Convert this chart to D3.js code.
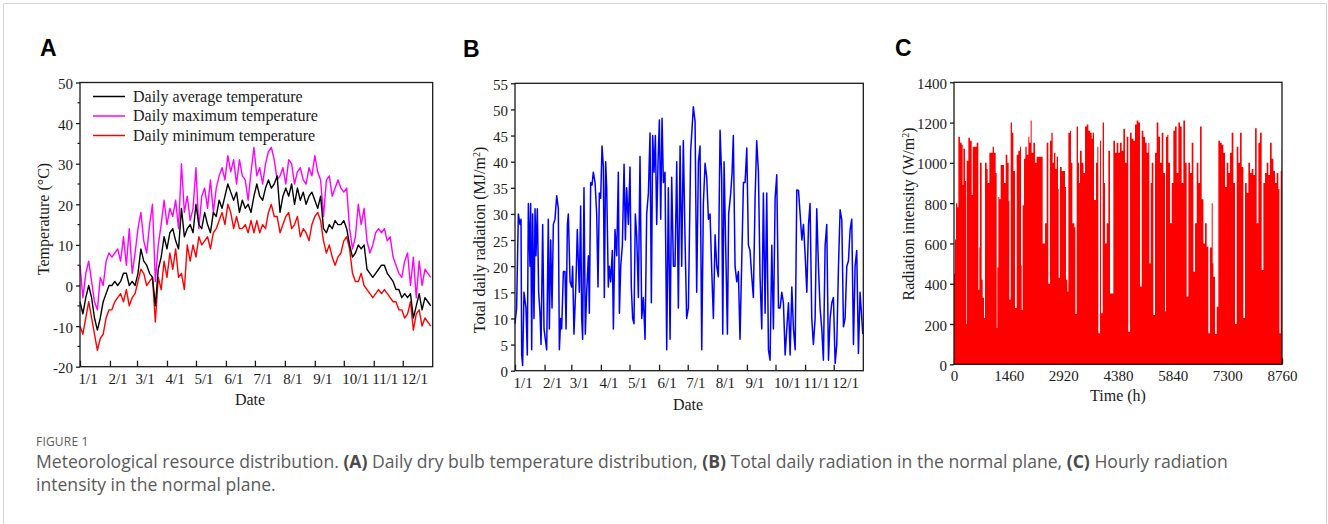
<!DOCTYPE html>
<html>
<head>
<meta charset="utf-8">
<script src="https://cdn.jsdelivr.net/npm/d3@7"></script>
<style>
  body { margin: 0; background: #fff; }
  svg { display: block; }
  .tick-label { font-family: 'Liberation Serif', 'Times New Roman', serif; font-size: 15px; fill: #1a1a1a; }
  .axis-title { font-family: 'Liberation Serif', 'Times New Roman', serif; font-size: 16px; fill: #1a1a1a; }
  .panel-letter { font-family: 'Liberation Sans', Arial, sans-serif; font-size: 23px; font-weight: bold; fill: #000; }
  .caption { font-family: 'Open Sans', 'Noto Sans', sans-serif; fill: #5a5a5a; }
</style>
</head>
<body>
<svg id="fig" width="1328" height="524"></svg>
<script>
// ---- data ----
const monthStarts = [0, 31, 59, 90, 120, 151, 181, 212, 243, 273, 304, 334];
const monthLabels = ['1/1', '2/1', '3/1', '4/1', '5/1', '6/1', '7/1', '8/1', '9/1', '10/1', '11/1', '12/1'];

// panel A: one reading every third day (day 0, 3, 6 ... 363)
const tempStepDays = 3;
const tempAvg = [-4, -7, -3, 0, -3, -8, -11, -8, -4, -2, 0, 0, 1, 0, 1, 3, 3, 0, 1, 0,
  3, 9, 6, 5, 3, 2, -5, 4, 7, 12, 9, 13, 14, 11, 9, 19, 12, 14, 15, 13,
  20, 15, 14, 18, 15, 13, 18, 17, 21, 19, 22, 25, 23, 21, 23, 18, 21,
  19, 20, 18, 22, 25, 22, 21, 24, 26, 24, 25, 27, 18, 22, 24, 22, 25, 20, 24, 21,
  23, 20, 22, 23, 21, 19, 22, 14, 13, 15, 14, 16, 15, 15, 16, 14, 10, 7, 8, 10,
  9, 10, 4, 3, 2, 3, 4, 5, 5, 3, 2, 1, -1, -1, -3, -2, -3, -2, -8, -5,
  -2, -6, -3, -4, -5];
const tempMax = [5, -3, 3, 6, 1, -4, -6, 2, 0, 6, 8, 7, 8, 9, 6, 12, 5, 14, 3, 8,
  14, 18, 11, 8, 15, 20, 1, 10, 15, 21, 15, 19, 17, 21, 14, 30, 18, 22, 16, 19,
  29, 14, 22, 24, 19, 26, 18, 24, 27, 29, 26, 32, 28, 31, 25, 31, 27,
  26, 21, 28, 34, 27, 29, 25, 30, 33, 34, 31, 26, 27, 29, 25, 31, 30, 25, 28, 29,
  26, 25, 29, 27, 32, 28, 26, 17, 26, 27, 22, 24, 26, 24, 23, 24, 14, 9, 12, 20,
  15, 19, 11, 8, 10, 13, 14, 13, 14, 11, 12, 7, 5, 3, 2, 6, 8, 0, 7, -3,
  6, 0, 4, 3, 2];
const tempMin = [-10, -12, -8, -4, -8, -12, -16, -13, -12, -8, -6, -6, -4, -3, -2, -4, -1, -5, -3, -2,
  1, 4, 3, 0, 1, 2, -9, 2, -1, 6, 2, 8, 4, 9, 2, 3, -1, 10, 6, 10,
  7, 12, 10, 11, 12, 9, 13, 14, 16, 18, 15, 20, 18, 14, 17, 14, 14,
  15, 13, 16, 13, 16, 13, 15, 14, 18, 20, 17, 17, 13, 15, 17, 18, 14, 15, 17, 12,
  14, 13, 11, 15, 17, 18, 16, 11, 8, 10, 7, 5, 7, 8, 11, 12, 9, 3, 1, 1,
  3, 0, -1, -2, -3, -2, -1, -2, -1, -2, -3, -4, -4, -6, -6, -8, -7, -4, -11, -7,
  -6, -10, -8, -9, -10];
const tempSeries = ['Daily average temperature', 'Daily maximum temperature', 'Daily minimum temperature'];
const tempColors = ['#000000', '#ff00ff', '#ff0000'];
const tempTicks = [-20, -10, 0, 10, 20, 30, 40, 50];

// panel B: daily total radiation, peaks and troughs (day of year, MJ/m2)
const radDays = [0, 1.7, 3.5, 5.2, 6.3, 7, 8, 9.4, 11.5, 12.9, 14, 15.7, 16.4, 17.5, 18.5, 19.9, 21, 22, 23.4, 24.8,
  26.2, 27.3, 29, 30.4, 31.8, 33.2, 34.9, 36, 37.4, 38.8, 40.2, 41.9, 43.7, 45.4, 46.5, 47.9, 48.9, 50.7, 52.4, 53.5,
  54.9, 55.9, 57.7, 59.4, 60.4, 61.8, 63.9, 65.3, 67.4, 68.8, 69.9, 70.9, 72.3, 73.7, 75.1, 76.9, 77.9, 79.3, 80.7, 82.1,
  83.9, 85.6, 87, 88.4, 89.8, 91.2, 92.6, 93.6, 95, 96.1, 97.8, 98.9, 100.3, 102, 103.1, 104.8, 106.6, 108.3, 109.4, 110.8,
  112.5, 114.3, 115.7, 117, 118.8, 120.5, 121.9, 123.3, 124.7, 126.1, 127.5, 129.3, 131, 132.8, 134.5, 136.3, 138, 139.8, 141.5, 142.9,
  144.3, 145.7, 147.1, 148.5, 149.9, 151.3, 152.7, 154.1, 155.5, 157.2, 159, 160.7, 162.5, 164.2, 166,
  167.7, 169.5, 171.2, 173, 174.7, 176.4, 178.2, 179.9, 181.7, 184.1, 186.9, 188.7, 190.4, 192.2, 193.9,
  195.7, 197.4, 199.2, 200.9, 202.7, 204.4, 206.2, 207.9, 209.7, 211.4, 213.1, 214.9, 216.6, 217.7, 219.1,
  221.2, 222.6, 223.9, 226.1, 227.5, 228.8, 230.6, 232.4, 234.1, 235.8, 237.6, 239.4, 241.1, 242.9, 244.6,
  246.3, 248.1, 249.8, 251.6, 253.3, 255.1, 256.8, 258.6, 260.3, 262.1, 263.8, 265.6, 267.3, 269.1, 270.8,
  272.6, 274.3, 276.1, 277.8, 279.6, 281.3, 283.1, 284.8, 286.6, 288.3, 290.1, 291.8, 293.6, 295.3, 297.1,
  298.8, 300.6, 302.3, 304.1, 305.8, 307.6, 309.2, 311, 312.7, 314.5, 316.2, 318, 319.7, 321.5, 323.2,
  325, 326.7, 328.5, 330.2, 332, 333.7, 335.5, 337.2, 339, 340.7, 342.5, 344.2, 345.9, 347.7, 349.4,
  351.2, 352.9, 354.7, 356.4, 358.1, 359.9, 361.6, 363.4, 364.5];
const radDaily = [9, 12, 30, 28, 29, 3, 1, 15, 12, 3, 32, 20, 32, 4, 30, 10, 31, 22, 31, 15,
  11, 5, 28, 8, 6, 4, 29, 8, 25, 12, 28, 29, 33.5, 31, 4, 10, 8, 19, 19, 8,
  28, 30, 17, 16, 20, 7, 17, 27, 15, 31.5, 10, 6, 35, 7, 15, 22, 11, 36, 35.5, 38,
  36, 30, 16, 34, 33, 43, 39, 14, 40, 35, 16, 20, 17, 23, 8, 27, 22, 38, 11, 20,
  24, 39.5, 25, 35, 28, 39, 16, 10, 9, 30, 26, 14, 41, 10, 14, 6, 30, 34, 45.5, 13,
  45, 38, 45, 28, 40, 48, 29, 48.3, 36, 38, 4, 35, 6, 37, 20,
  20, 40, 12, 43, 20, 44, 25, 10, 12, 42, 50.5, 47.7, 15, 40, 43,
  4, 32, 39.7, 37, 29, 30, 19, 10, 26, 20, 18, 46, 37, 7, 40,
  20, 7, 30, 34, 38, 45, 20, 17, 19, 6, 21, 36, 36, 42.6, 24,
  23, 18, 14, 33, 44, 38, 18, 8, 34, 11, 34, 4, 2, 24, 8,
  33, 37.5, 12, 12, 15, 13, 3, 8, 13, 3, 16, 8, 4, 34.6, 34.5,
  30, 25, 28, 22, 15, 28, 32, 10, 5, 10, 31, 20, 12, 8, 2,
  24, 28, 2, 10, 13, 14, 1.4, 5, 20, 30.8, 28.8, 8.4, 10, 20, 21,
  27, 29, 5, 20, 23, 3.3, 15, 10, 7];
const radTicks = [0, 5, 10, 15, 20, 25, 30, 35, 40, 45, 50, 55];

// panel C: hourly intensity, upper envelope of the hourly trace (hour, W/m2)
const hourMarks = [0, 27, 53, 89, 116, 160, 205, 231, 249, 294, 321, 338, 383, 427, 472, 499, 561, 605, 650, 677,
  694, 739, 766, 801, 828, 872, 899, 944, 988, 1033, 1068, 1113, 1140, 1157, 1184, 1211, 1246, 1300, 1335, 1380,
  1424, 1460, 1478, 1514, 1549, 1585, 1629, 1674, 1718, 1763, 1790, 1807, 1834, 1870, 1905, 1941, 1985, 2012, 2048, 2074,
  2119, 2163, 2208, 2368, 2386, 2431, 2475, 2520, 2564, 2600, 2635, 2671, 2707, 2742, 2778, 2796, 2831, 2876, 2920, 2965,
  2991, 3027, 3054, 3098, 3125, 3161, 3187, 3214, 3241, 3276, 3312, 3339, 3365,
  3410, 3455, 3499, 3544, 3588, 3633, 3677, 3704, 3739, 3793, 3828, 3855, 3900, 3926, 3971, 4006, 4033, 4078, 4122, 4167,
  4256, 4300, 4345, 4389, 4434, 4478, 4523, 4567, 4612, 4656, 4701, 4745, 4790, 4834, 4879, 4923, 4968, 5013, 5057, 5102,
  5146, 5191, 5217, 5253, 5280, 5324, 5369, 5413, 5458, 5502, 5547, 5591, 5636, 5662, 5698, 5725, 5769, 5814, 5858, 5903,
  5947, 5992, 6036, 6081, 6125, 6170, 6214, 6259, 6303, 6348, 6393, 6437, 6482, 6526, 6571, 6615, 6660, 6704, 6749, 6793,
  6838, 6882, 6909, 6927, 6971, 7016, 7060, 7105, 7149, 7194, 7238, 7283, 7327, 7372, 7416, 7461, 7505, 7550, 7594, 7639,
  7683, 7728, 7772, 7817, 7861, 7906, 7950, 7995, 8040, 8084, 8129, 8173, 8218, 8262, 8307, 8351, 8396, 8440, 8485, 8529,
  8574, 8618, 8663, 8690, 8725, 8752, 8760];
const hourPeak = [450, 620, 800, 780, 1130, 1100, 1090, 890, 1070, 910, 200, 1010, 1125, 1110, 840, 1080, 1080, 1100, 370, 580,
  1000, 420, 330, 230, 1000, 970, 900, 1050, 1050, 1080, 1050, 950, 180, 480, 830, 820, 990, 990, 900, 1040,
  1000, 810, 320, 1200, 1150, 960, 280, 1040, 1060, 1080, 490, 270, 790, 1020, 1080, 1040, 1130, 1100, 1210, 1050,
  1100, 1000, 1030, 600, 600, 700, 1100, 400, 1110, 1150, 1000, 1050, 970, 1030, 870, 430, 980, 960, 960, 880,
  420, 360, 1150, 1160, 1000, 700, 700, 680, 250, 1180, 1000, 900, 1060,
  1000, 950, 1180, 1190, 1160, 1150, 1120, 1150, 816, 1000, 1080, 154, 1110, 253, 1200, 900, 600, 700, 1060, 352,
  1110, 1050, 1100, 1050, 1100, 1060, 1170, 1000, 1130, 162, 1150, 1120, 1110, 1190, 1210, 1200, 386, 1160, 1130, 1100,
  1050, 1100, 500, 900, 1000, 245, 1050, 1200, 1130, 1000, 1150, 950, 262, 1130, 1140, 1000, 700, 900, 1160, 1180,
  950, 1200, 1180, 900, 1210, 1000, 336, 1000, 950, 1100, 460, 700, 1000, 900, 1180, 820, 600, 700, 584, 154,
  580, 800, 500, 435, 150, 286, 1110, 1100, 1090, 1050, 880, 1000, 950, 1050, 1150, 900, 200, 1080, 1000, 1150,
  980, 230, 900, 850, 1000, 950, 970, 940, 1172, 700, 1100, 1150, 468, 900, 950, 1000, 940, 1100, 1020, 960,
  900, 950, 870, 154, 960, 1070, 1070];
const hourTicks = [0, 1460, 2920, 4380, 5840, 7300, 8760];
const intensityTicks = [0, 200, 400, 600, 800, 1000, 1200, 1400];

// ---- helpers ----
const svg = d3.select('#fig');
const ink = '#1a1a1a';
const plain = (d) => String(d); // hyphen minus, no thousands separator

function drawFrame(g, x, y) {
  g.append('rect')
    .attr('x', x.range()[0])
    .attr('y', y.range()[1])
    .attr('width', x.range()[1] - x.range()[0])
    .attr('height', y.range()[0] - y.range()[1])
    .attr('fill', 'none')
    .attr('stroke', ink)
    .attr('stroke-width', 1.3);
}

function drawXAxis(g, x, y, ticks, fmt, anchor) {
  const ax = g.append('g')
    .attr('transform', `translate(0,${y.range()[0]})`)
    .call(d3.axisBottom(x).tickValues(ticks).tickFormat(fmt).tickSizeInner(-6).tickSizeOuter(0));
  ax.select('.domain').remove();
  ax.selectAll('line').attr('stroke', ink).attr('stroke-width', 1.3);
  ax.selectAll('text')
    .attr('class', 'tick-label')
    .attr('dy', null)
    .attr('y', 17)
    .attr('text-anchor', anchor)
    .attr('dx', anchor === 'start' ? -2 : 0);
}

function drawYAxis(g, x, y, ticks, minor) {
  const ax = g.append('g')
    .attr('transform', `translate(${x.range()[0]},0)`)
    .call(d3.axisLeft(y).tickValues(ticks).tickFormat(plain).tickSizeInner(4).tickSizeOuter(0).tickPadding(3));
  ax.select('.domain').remove();
  ax.selectAll('line').attr('stroke', ink).attr('stroke-width', 1.3);
  ax.selectAll('text').attr('class', 'tick-label').attr('dy', '0.4em');
  if (minor) {
    g.append('g').selectAll('line')
      .data(minor)
      .join('line')
      .attr('x1', x.range()[0] - 2.5)
      .attr('x2', x.range()[0])
      .attr('y1', (d) => y(d))
      .attr('y2', (d) => y(d))
      .attr('stroke', ink)
      .attr('stroke-width', 1.2);
  }
}

function yTitle(g, cx, cy, parts) {
  const t = g.append('text')
    .attr('class', 'axis-title')
    .attr('transform', `translate(${cx},${cy}) rotate(-90)`)
    .attr('text-anchor', 'middle')
    .attr('dy', '0.35em');
  parts.forEach((p) => {
    const s = t.append('tspan').text(p.text);
    if (p.sup) s.attr('baseline-shift', 'super').style('font-size', '10px');
  });
}

// outer frame of the figure
svg.append('path')
  .attr('d', 'M3.5,524V3.5H1326.5V524')
  .attr('fill', 'none')
  .attr('stroke', '#d4d4d4')
  .attr('stroke-width', 1);

// ---- panel A ----
const gA = svg.append('g');
const xA = d3.scaleLinear().domain([0, 365]).range([80, 432.7]);
const yA = d3.scaleLinear().domain([-20, 50]).range([366.7, 82.5]);

gA.append('text').attr('class', 'panel-letter').attr('x', 40).attr('y', 56).text('A');

drawXAxis(gA, xA, yA, monthStarts, (d, i) => monthLabels[i], 'start');
drawYAxis(gA, xA, yA, tempTicks, [-15, -5, 5, 15, 25, 35, 45]);

const lineA = d3.line()
  .x((d, i) => xA(i * tempStepDays))
  .y((d) => yA(d));

// draw max, min, then average on top
[[tempMax, 1], [tempMin, 2], [tempAvg, 0]].forEach(([s, idx]) => {
  gA.append('path')
    .datum(s)
    .attr('d', lineA)
    .attr('fill', 'none')
    .attr('stroke', tempColors[idx])
    .attr('stroke-width', 1.4)
    .attr('stroke-linejoin', 'round');
});

drawFrame(gA, xA, yA);

const legA = gA.append('g');
legA.selectAll('line')
  .data(tempSeries)
  .join('line')
  .attr('x1', 93)
  .attr('x2', 125)
  .attr('y1', (d, i) => 96.5 + i * 19.5)
  .attr('y2', (d, i) => 96.5 + i * 19.5)
  .attr('stroke', (d, i) => tempColors[i])
  .attr('stroke-width', 1.5);
legA.selectAll('text')
  .data(tempSeries)
  .join('text')
  .attr('class', 'axis-title')
  .attr('x', 133)
  .attr('y', (d, i) => 96.5 + i * 19.5)
  .attr('dy', '0.32em')
  .text((d) => d);

yTitle(gA, 43.5, 219, [{ text: 'Temperature (°C)' }]);
gA.append('text').attr('class', 'axis-title').attr('x', 250).attr('y', 405)
  .attr('text-anchor', 'middle').text('Date');

// ---- panel B ----
const gB = svg.append('g');
const xB = d3.scaleLinear().domain([0, 365]).range([515, 863.3]);
const yB = d3.scaleLinear().domain([0, 55]).range([370.7, 83.3]);

gB.append('text').attr('class', 'panel-letter').attr('x', 463).attr('y', 56.5).text('B');

drawXAxis(gB, xB, yB, monthStarts, (d, i) => monthLabels[i], 'start');
drawYAxis(gB, xB, yB, radTicks, null);

gB.append('path')
  .datum(radDaily)
  .attr('d', d3.line().x((d, i) => xB(radDays[i])).y((d) => yB(d)))
  .attr('fill', 'none')
  .attr('stroke', '#0000ff')
  .attr('stroke-width', 1.5)
  .attr('stroke-linejoin', 'round');

drawFrame(gB, xB, yB);

yTitle(gB, 479, 240, [{ text: 'Total daily radiation (MJ/m' }, { text: '2', sup: true }, { text: ')' }]);
gB.append('text').attr('class', 'axis-title').attr('x', 688).attr('y', 410)
  .attr('text-anchor', 'middle').text('Date');

// ---- panel C ----
const gC = svg.append('g');
const xC = d3.scaleLinear().domain([0, 8760]).range([954, 1282]);
const yC = d3.scaleLinear().domain([0, 1400]).range([364.3, 82.3]);

gC.append('text').attr('class', 'panel-letter').attr('x', 895).attr('y', 56).text('C');

drawXAxis(gC, xC, yC, hourTicks, plain, 'middle');
drawYAxis(gC, xC, yC, intensityTicks, null);

gC.append('path')
  .datum(hourPeak)
  .attr('d', d3.area()
    .curve(d3.curveStepAfter)
    .x((d, i) => xC(hourMarks[i]))
    .y0(yC(0))
    .y1((d) => yC(d)))
  .attr('fill', '#ff0000')
  .attr('stroke', 'none');

drawFrame(gC, xC, yC);

yTitle(gC, 908, 214, [{ text: 'Radiation intensity (W/m' }, { text: '2', sup: true }, { text: ')' }]);
gC.append('text').attr('class', 'axis-title').attr('x', 1118).attr('y', 401)
  .attr('text-anchor', 'middle').text('Time (h)');

// ---- caption ----
const cap = svg.append('g').attr('class', 'caption');
cap.append('text')
  .attr('x', 36).attr('y', 446)
  .style('font-size', '12px')
  .style('letter-spacing', '0.2px')
  .text('FIGURE 1');

const capLine1 = [
  { t: 'Meteorological resource distribution. ' }, { t: '(A)', b: true },
  { t: ' Daily dry bulb temperature distribution, ' }, { t: '(B)', b: true },
  { t: ' Total daily radiation in the normal plane, ' }, { t: '(C)', b: true },
  { t: ' Hourly radiation' },
];
const l1 = cap.append('text').attr('x', 36).attr('y', 468).style('font-size', '16px');
capLine1.forEach((p) => {
  const s = l1.append('tspan').text(p.t);
  if (p.b) s.style('font-weight', 'bold').style('fill', '#4a4a4a');
});
const l2 = cap.append('text').attr('x', 36).attr('y', 491).style('font-size', '16px')
  .text('intensity in the normal plane.');

// fit caption width to the original line length
const w1 = l1.node().getComputedTextLength();
const fs = Math.max(14, Math.min(18, 16 * 1193 / w1));
l1.style('font-size', `${fs}px`);
l2.style('font-size', `${fs}px`);
</script>
</body>
</html>
